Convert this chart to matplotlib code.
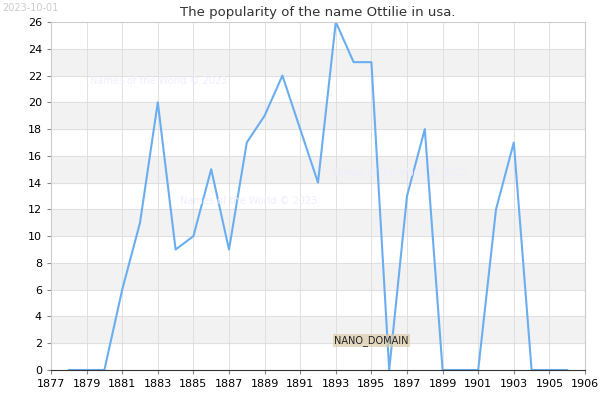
import matplotlib
matplotlib.use("Agg")
import matplotlib.pyplot as plt

years = list(range(1878, 1907))
values = [0, 0, 0, 6, 11, 20, 9, 10, 15, 9, 17, 19, 22, 18, 14, 26, 23, 23, 0, 13, 18, 0, 0, 0, 12, 17, 0, 0, 0]
xticks = list(range(1877, 1906, 2)) + [1907]
xlabels = [str(x) for x in range(1877, 1906, 2)] + ["1906"]
yticks = list(range(0, 27, 2))

fig = plt.figure(figsize=(6, 4), dpi=100)
ax = fig.add_axes([51/600, 30/400, 534/600, 348/400])
ax.set_xlim(1877, 1907)
ax.set_ylim(0, 26)
for y0 in range(2, 26, 4):
    ax.axhspan(y0, y0 + 2, color="#f2f2f2", zorder=0)
for y in yticks:
    ax.axhline(y, color="#dddddd", lw=0.6, zorder=0.5)
for x in xticks:
    ax.axvline(x, color="#dddddd", lw=0.6, zorder=0.5)
ax.plot(years, values, color="#6aaef0", lw=1.5, zorder=2)
ax.set_xticks(xticks)
ax.set_xticklabels(xlabels)
ax.set_yticks(yticks)
ax.tick_params(labelsize=8, length=3, color="#888888")
for s in ax.spines.values():
    s.set_color("#cccccc")
ax.spines["bottom"].set_color("#333333")
ax.set_title("The popularity of the name Ottilie in usa.", fontsize=9.5, color="#333333", pad=4)
fig.text(2/600, 1-8/400, "2023-10-01", fontsize=7, color="#cccccc", va="center")
for (tx, ty) in [(0.15, 0.79), (0.3, 0.49), (0.55, 0.56)]:
    fig.text(tx, ty, "Names of the World © 2023", fontsize=7, color="#eeeeff")
ax.text(1895, 2.2, "NANO_DOMAIN", fontsize=7, ha="center", va="center", color="#222222",
        bbox=dict(boxstyle="square,pad=0.1", fc="#ddccaa", ec="none", alpha=0.7))
fig.savefig("out.png")
